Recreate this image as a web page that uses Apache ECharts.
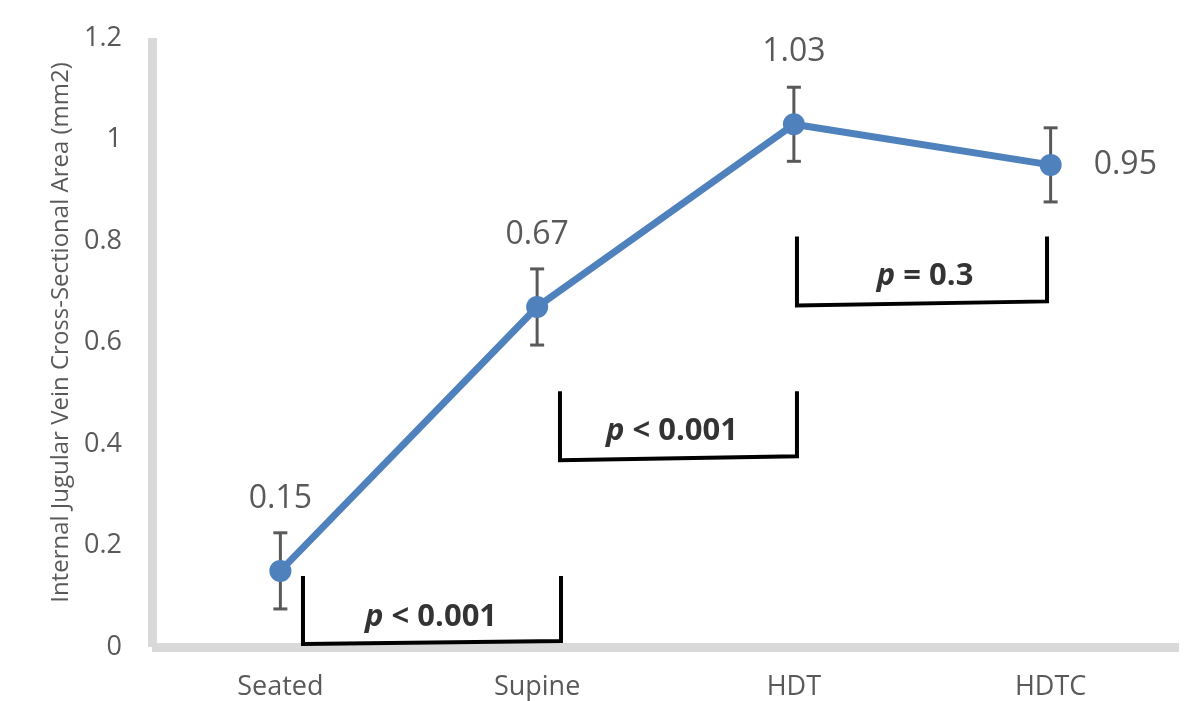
<!DOCTYPE html>
<html>
<head>
<meta charset="utf-8">
<script src="https://cdn.jsdelivr.net/npm/echarts@6/dist/echarts.min.js"></script>
<style>html,body{margin:0;padding:0;background:#fff;}#c{width:1199px;height:701px;}</style>
</head>
<body>
<div id="c"></div>
<script>
var categories = ['Seated', 'Supine', 'HDT', 'HDTC'];
var means = [0.15, 0.67, 1.03, 0.95];
var errors = [0.075, 0.075, 0.073, 0.073];
var yTicks = [0, 0.2, 0.4, 0.6, 0.8, 1, 1.2];
// comparison brackets: [xLeft, xRight, yTop, yBottomLeft, yBottomRight] in category-index / value units
var bracketSpans = [
  [0.088, 1.093, 0.140, 0.006, 0.012],
  [1.089, 2.012, 0.504, 0.368, 0.376],
  [2.012, 2.986, 0.809, 0.673, 0.681]
];
var pLabels = ['< 0.001', '< 0.001', '= 0.3'];
var pLabelAnchors = [[0.587, 0.059], [1.525, 0.425], [2.511, 0.730]];

var chart = echarts.init(document.getElementById('c'));
var FONT = '"Open Sans", "Noto Sans", sans-serif';
var GRAY = '#595959';

var series = [];

series.push({
  type: 'line',
  xAxisIndex: 0,
  data: means.map(function (v, i) {
    var last = i === means.length - 1;
    return {
      value: v,
      label: last ? { position: 'right', distance: 32 } : { position: 'top', distance: 45 }
    };
  }),
  symbol: 'circle',
  symbolSize: 22,
  lineStyle: { color: '#4f81bd', width: 7 },
  itemStyle: { color: '#4f81bd' },
  z: 5,
  label: {
    show: true,
    color: GRAY,
    fontFamily: FONT,
    fontSize: 32,
    formatter: function (p) { return String(p.value); }
  }
});

series.push({
  type: 'custom',
  xAxisIndex: 0,
  z: 4,
  data: means.map(function (v, i) { return [i, v - errors[i], v + errors[i]]; }),
  renderItem: function (params, api) {
    var i = api.value(0);
    var lo = api.coord([i, api.value(1)]);
    var hi = api.coord([i, api.value(2)]);
    var cap = 7;
    var style = { stroke: GRAY, lineWidth: 3 };
    return {
      type: 'group',
      children: [
        { type: 'line', shape: { x1: lo[0], y1: lo[1], x2: hi[0], y2: hi[1] }, style: style },
        { type: 'line', shape: { x1: lo[0] - cap, y1: lo[1], x2: lo[0] + cap, y2: lo[1] }, style: style },
        { type: 'line', shape: { x1: hi[0] - cap, y1: hi[1], x2: hi[0] + cap, y2: hi[1] }, style: style }
      ]
    };
  },
  encode: { x: 0, y: [1, 2] },
  silent: true
});

bracketSpans.forEach(function (b) {
  series.push({
    type: 'line',
    xAxisIndex: 1,
    data: [[b[0], b[2]], [b[0], b[3]], [b[1], b[4]], [b[1], b[2]]],
    symbol: 'none',
    lineStyle: { color: '#000', width: 4, join: 'miter' },
    silent: true,
    z: 3
  });
});

series.push({
  type: 'scatter',
  xAxisIndex: 1,
  symbolSize: 0,
  silent: true,
  data: pLabelAnchors.map(function (a, i) { return { value: a, name: pLabels[i] }; }),
  label: {
    show: true,
    position: 'inside',
    formatter: function (p) { return '{i|p}{s| }{b|' + p.name + '}'; },
    rich: {
      i: { fontFamily: FONT, fontSize: 31, fontWeight: 'bold', fontStyle: 'italic', color: '#000' },
      s: { fontFamily: FONT, fontSize: 31, color: '#000' },
      b: { fontFamily: FONT, fontSize: 31, fontWeight: 'bold', color: '#000' }
    }
  }
});

chart.setOption({
  animation: false,
  grid: { left: 152, right: 20, top: 38, bottom: 53 },
  xAxis: [{
    type: 'category',
    data: categories,
    boundaryGap: true,
    axisLine: { show: true, lineStyle: { color: '#d9d9d9', width: 9, cap: 'butt' } },
    axisTick: { show: false },
    axisLabel: { color: GRAY, fontFamily: FONT, fontSize: 27, margin: 27 }
  }, {
    type: 'value',
    min: -0.5,
    max: 3.5,
    show: false
  }],
  yAxis: {
    type: 'value',
    min: 0,
    max: 1.2,
    interval: 0.2,
    name: 'Internal Jugular Vein Cross-Sectional Area (mm2)',
    nameLocation: 'middle',
    nameGap: 79,
    nameTextStyle: { color: GRAY, fontFamily: FONT, fontSize: 24, padding: [0, 0, 0, 20] },
    axisLine: { show: true, onZero: false, lineStyle: { color: '#d9d9d9', width: 9, cap: 'butt' } },
    axisTick: { show: false },
    splitLine: { show: false },
    axisLabel: {
      color: GRAY, fontFamily: FONT, fontSize: 27, margin: 30,
      formatter: function (v) {
        var t = yTicks.filter(function (k) { return Math.abs(k - v) < 1e-9; });
        return t.length ? String(t[0]) : '';
      }
    }
  },
  series: series
});
</script>
</body>
</html>
